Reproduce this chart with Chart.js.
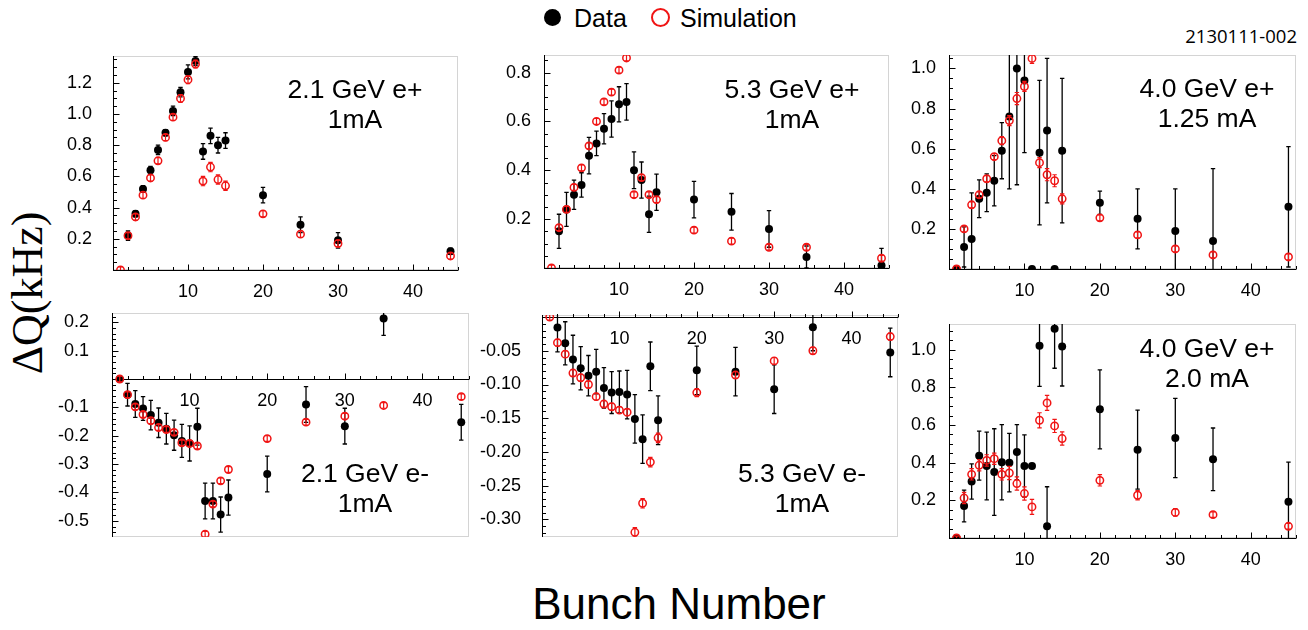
<!DOCTYPE html>
<html lang="en">
<head>
<meta charset="UTF-8">
<title>Tune shift vs bunch number</title>
<script src="https://cdn.jsdelivr.net/npm/chart.js@4.4.0/dist/chart.umd.min.js"></script>
<style>
  body { margin: 0; background: #fff; font-family: 'Liberation Sans', Arial, sans-serif; }
  #page { position: relative; width: 1308px; height: 630px; overflow: hidden; background: #fff; }
  canvas { position: absolute; }
  .txt { position: absolute; color: #000; white-space: nowrap; }
  .note { font-size: 26.5px; line-height: 30px; text-align: center; transform: translateX(-50%); }
</style>
</head>
<body>
<div id="page">
  <div class="txt" style="left:544px;top:9px;width:17px;height:17px;border-radius:50%;background:#000"></div>
  <div class="txt" style="left:574px;top:3px;font-size:25px;line-height:30px">Data</div>
  <div class="txt" style="left:651px;top:8px;width:15px;height:15px;border-radius:50%;border:2.5px solid #f01414"></div>
  <div class="txt" style="left:680px;top:3px;font-size:25px;line-height:30px">Simulation</div>
  <div class="txt" style="right:11px;top:23px;font-family:'Open Sans',sans-serif;font-size:18.5px;line-height:26px">2130111-002</div>
  <div class="txt" style="left:28px;top:293px;font-family:'Liberation Serif',serif;font-size:44px;line-height:50px;transform:translate(-50%,-50%) rotate(-90deg)">ΔQ(kHz)</div>
  <div class="txt" style="left:679px;top:604px;font-size:44px;line-height:50px;transform:translate(-50%,-50%)">Bunch Number</div>
</div>
<script>
// bunch numbers (x values)
const bunch = [1, 2, 3, 4, 5, 6, 7, 8, 9, 10, 11, 12, 13, 14, 15, 20, 25, 30, 35, 45];
const xTicks = [10, 20, 30, 40];

// 2.1 GeV e+ 1mA
const tlData    = [null, 0.22, 0.36, 0.52, 0.64, 0.77, 0.88, 1.02, 1.14, 1.27, 1.34, 0.76, 0.86, 0.80, 0.83, 0.48, 0.29, 0.19, null, 0.12];
const tlDataErr = [0, 0.03, 0.02, 0.02, 0.025, 0.03, 0.02, 0.03, 0.03, 0.045, 0.03, 0.05, 0.05, 0.05, 0.05, 0.05, 0.05, 0.05, 0, 0.02];
const tlSim     = [0.0, 0.22, 0.34, 0.48, 0.59, 0.70, 0.85, 0.98, 1.10, 1.22, 1.32, 0.57, 0.66, 0.58, 0.54, 0.36, 0.23, 0.17, null, 0.09];
const tlSimErr  = [0.02, 0.02, 0.02, 0.02, 0.02, 0.02, 0.02, 0.02, 0.025, 0.025, 0.025, 0.03, 0.03, 0.03, 0.03, 0.02, 0.02, 0.02, 0, 0.02];

// 5.3 GeV e+ 1mA
const tmData    = [null, 0.15, 0.24, 0.30, 0.34, 0.46, 0.51, 0.57, 0.61, 0.67, 0.68, 0.40, 0.36, 0.22, 0.31, 0.28, 0.23, 0.16, 0.045, 0.01];
const tmDataErr = [0, 0.07, 0.07, 0.06, 0.05, 0.075, 0.05, 0.062, 0.074, 0.072, 0.075, 0.075, 0.074, 0.074, 0.074, 0.075, 0.075, 0.075, 0.045, 0.07];
const tmSim     = [0.0, 0.165, 0.24, 0.33, 0.41, 0.50, 0.60, 0.68, 0.72, 0.81, 0.86, 0.30, 0.37, 0.30, 0.28, 0.155, 0.11, 0.085, 0.085, 0.04];
const tmSimErr  = [0.012, 0.012, 0.012, 0.012, 0.012, 0.012, 0.012, 0.012, 0.012, 0.012, 0.012, 0.012, 0.012, 0.012, 0.012, 0.012, 0.012, 0.012, 0.012, 0.012];

// 4.0 GeV e+ 1.25 mA
const trData    = [0.0, 0.11, 0.15, 0.35, 0.38, 0.44, 0.59, 0.76, 1.00, 0.94, 0.0, 0.58, 0.69, 0.0, 0.59, 0.33, 0.25, 0.19, 0.14, 0.31];
const trDataErr = [0, 0.10, 0.23, 0.094, 0.094, 0.125, 0.14, 0.36, 0.58, 0.36, 0, 0.36, 0.36, 0, 0.36, 0.058, 0.15, 0.21, 0.36, 0.30];
const trSim     = [0.0, 0.20, 0.32, 0.37, 0.45, 0.56, 0.64, 0.74, 0.85, 0.91, 1.05, 0.53, 0.47, 0.44, 0.35, 0.255, 0.17, 0.10, 0.07, 0.06];
const trSimErr  = [0.015, 0.015, 0.015, 0.015, 0.015, 0.015, 0.02, 0.025, 0.03, 0.025, 0.025, 0.025, 0.03, 0.03, 0.025, 0.015, 0.015, 0.015, 0.015, 0.015];

// 2.1 GeV e- 1mA
const blData    = [0.0, -0.055, -0.088, -0.104, -0.127, -0.154, -0.175, -0.198, -0.218, -0.227, -0.168, -0.43, -0.43, -0.478, -0.418, -0.335, -0.09, -0.166, 0.214, -0.152];
const blDataErr = [0, 0.04, 0.047, 0.042, 0.052, 0.052, 0.054, 0.053, 0.058, 0.062, 0.065, 0.063, 0.063, 0.062, 0.062, 0.063, 0.063, 0.063, 0.06, 0.063];
const blSim     = [0.0, -0.055, -0.098, -0.125, -0.147, -0.171, -0.178, -0.188, -0.225, -0.227, -0.236, -0.547, -0.441, -0.359, -0.319, -0.21, -0.152, -0.131, -0.093, -0.062];
const blSimErr  = [0.01, 0.01, 0.01, 0.01, 0.01, 0.01, 0.01, 0.01, 0.01, 0.01, 0.01, 0.01, 0.01, 0.01, 0.01, 0.01, 0.01, 0.01, 0.01, 0.01];

// 5.3 GeV e- 1mA
const bmData    = [null, -0.0155, -0.039, -0.063, -0.076, -0.087, -0.081, -0.105, -0.112, -0.111, -0.115, -0.151, -0.181, -0.073, -0.153, -0.079, -0.081, -0.107, -0.015, -0.0525];
const bmDataErr = [0, 0.036, 0.032, 0.036, 0.032, 0.03, 0.033, 0.03, 0.031, 0.031, 0.036, 0.036, 0.036, 0.036, 0.036, 0.036, 0.036, 0.036, 0.035, 0.036];
const bmSim     = [0.0, -0.038, -0.055, -0.083, -0.09, -0.10, -0.118, -0.129, -0.133, -0.138, -0.141, -0.319, -0.276, -0.215, -0.179, -0.112, -0.086, -0.065, -0.05, -0.029];
const bmSimErr  = [0.005, 0.005, 0.005, 0.005, 0.005, 0.005, 0.005, 0.005, 0.005, 0.005, 0.005, 0.007, 0.007, 0.007, 0.007, 0.006, 0.005, 0.005, 0.005, 0.005];

// 4.0 GeV e+ 2.0 mA
const brData    = [0.0, 0.17, 0.30, 0.437, 0.382, 0.35, 0.402, 0.40, 0.456, 0.382, 0.382, 1.021, 0.062, 1.111, 1.017, 0.683, 0.469, 0.531, 0.418, 0.193];
const brDataErr = [0, 0.084, 0.094, 0.13, 0.18, 0.23, 0.2, 0.155, 0.146, 0.165, 0, 0.216, 0.21, 0.21, 0.21, 0.21, 0.21, 0.21, 0.166, 0.21];
const brSim     = [0.0, 0.212, 0.338, 0.386, 0.412, 0.421, 0.338, 0.345, 0.289, 0.236, 0.165, 0.625, 0.717, 0.595, 0.528, 0.306, 0.227, 0.136, 0.124, 0.062];
const brSimErr  = [0.01, 0.03, 0.03, 0.03, 0.03, 0.03, 0.03, 0.035, 0.035, 0.035, 0.04, 0.04, 0.04, 0.035, 0.035, 0.03, 0.025, 0.02, 0.015, 0.015];

// y tick labels
const tlTicks = [0.2, 0.4, 0.6, 0.8, 1.0, 1.2];
const tmTicks = [0.2, 0.4, 0.6, 0.8];
const trTicks = [0.2, 0.4, 0.6, 0.8, 1.0];
const blTicks = [-0.5, -0.4, -0.3, -0.2, -0.1, 0.1, 0.2];
const bmTicks = [-0.30, -0.25, -0.20, -0.15, -0.10, -0.05];
const brTicks = [0.2, 0.4, 0.6, 0.8, 1.0];

const RED = '#f01414';
const L = 70, T = 30, R = 14, B = 32;

const panels = [
  { area: {left: 113, right: 458, top: 56, bottom: 270}, yMin: 0, yMax: 1.372, yTicks: tlTicks, dec: 1, minor: 0.05, pad: 13,
    data: tlData, dataErr: tlDataErr, sim: tlSim, simErr: tlSimErr, note: ['2.1 GeV e+', '1mA'], noteAt: [355, 74] },
  { area: {left: 544, right: 889, top: 55, bottom: 268}, yMin: 0, yMax: 0.872, yTicks: tmTicks, dec: 1, minor: 0.05, pad: 5,
    data: tmData, dataErr: tmDataErr, sim: tmSim, simErr: tmSimErr, note: ['5.3 GeV e+', '1mA'], noteAt: [792, 74] },
  { area: {left: 949, right: 1296, top: 55, bottom: 269}, yMin: 0, yMax: 1.067, yTicks: trTicks, dec: 1, minor: 0.05, pad: 5,
    data: trData, dataErr: trDataErr, sim: trSim, simErr: trSimErr, note: ['4.0 GeV e+', '1.25 mA'], noteAt: [1207, 73] },
  { area: {left: 112, right: 469, top: 313, bottom: 537}, yMin: -0.557, yMax: 0.233, yTicks: blTicks, dec: 1, minor: 0.02, pad: 15,
    data: blData, dataErr: blDataErr, sim: blSim, simErr: blSimErr, note: ['2.1 GeV e-', '1mA'], noteAt: [365, 458] },
  { area: {left: 542, right: 898, top: 315, bottom: 537}, yMin: -0.326, yMax: 0.003, yTicks: bmTicks, dec: 2, minor: 0.01, pad: 13,
    data: bmData, dataErr: bmDataErr, sim: bmSim, simErr: bmSimErr, note: ['5.3 GeV e-', '1mA'], noteAt: [802, 458] },
  { area: {left: 949, right: 1296, top: 324, bottom: 538}, yMin: 0, yMax: 1.136, yTicks: brTicks, dec: 1, minor: 0.05, pad: 5,
    data: brData, dataErr: brDataErr, sim: brSim, simErr: brSimErr, note: ['4.0 GeV e+', '2.0 mA'], noteAt: [1207, 333] }
];

Chart.defaults.font.family = "'Liberation Sans', Arial, sans-serif";

function toPoints(ys, errs) {
  const out = [];
  bunch.forEach((b, i) => {
    if (ys[i] !== null) out.push({x: b, y: ys[i], e: errs[i]});
  });
  return out;
}

// error bars drawn under each dataset's markers
const errorBars = {
  id: 'errorBars',
  beforeDatasetDraw(chart, args) {
    const ds = chart.data.datasets[args.index];
    const {ctx, chartArea: a} = chart;
    const xs = chart.scales.x, ys = chart.scales.y;
    ctx.save();
    ctx.beginPath();
    ctx.rect(a.left, a.top, a.right - a.left, a.bottom - a.top);
    ctx.clip();
    ctx.strokeStyle = ds.barColor;
    ctx.lineWidth = ds.barWidth;
    const cap = 2.2;
    ds.data.forEach(p => {
      if (!p.e) return;
      const px = xs.getPixelForValue(p.x);
      const y1 = ys.getPixelForValue(p.y - p.e);
      const y2 = ys.getPixelForValue(p.y + p.e);
      ctx.beginPath();
      ctx.moveTo(px, y1); ctx.lineTo(px, y2);
      ctx.moveTo(px - cap, y1); ctx.lineTo(px + cap, y1);
      ctx.moveTo(px - cap, y2); ctx.lineTo(px + cap, y2);
      ctx.stroke();
    });
    ctx.restore();
  }
};

function makePanel(p) {
  const page = document.getElementById('page');
  const w = p.area.right - p.area.left, h = p.area.bottom - p.area.top;
  const cv = document.createElement('canvas');
  cv.width = w + L + R;
  cv.height = h + T + B;
  cv.style.left = (p.area.left - L) + 'px';
  cv.style.top = (p.area.top - T) + 'px';
  cv.style.width = cv.width + 'px';
  cv.style.height = cv.height + 'px';
  page.appendChild(cv);

  const note = document.createElement('div');
  note.className = 'txt note';
  note.style.left = p.noteAt[0] + 'px';
  note.style.top = p.noteAt[1] + 'px';
  note.innerHTML = p.note.join('<br>');
  page.appendChild(note);

  // frame, axis lines and inward ticks
  const axes = {
    id: 'axes',
    beforeDatasetsDraw(chart) {
      const {ctx, chartArea: a} = chart;
      const xs = chart.scales.x, ys = chart.scales.y;
      ctx.save();
      ctx.strokeStyle = '#d4d4d4';
      ctx.lineWidth = 1;
      ctx.strokeRect(a.left + 0.5, a.top + 0.5, a.right - a.left - 1, a.bottom - a.top - 1);
      const y0 = Math.round(ys.getPixelForValue(0)) + 0.5;
      const x0 = Math.round(a.left) + 0.5;
      ctx.strokeStyle = '#000';
      ctx.beginPath();
      ctx.moveTo(x0, a.top); ctx.lineTo(x0, a.bottom);
      ctx.moveTo(a.left, y0); ctx.lineTo(a.right, y0);
      for (let k = 1; k <= 23; k++) {
        const v = k * 2;
        const px = Math.round(xs.getPixelForValue(v)) + 0.5;
        const len = v % 10 === 0 ? 6 : 3.5;
        ctx.moveTo(px, y0); ctx.lineTo(px, y0 - len);
      }
      const n0 = Math.ceil(p.yMin / p.minor - 1e-6), n1 = Math.floor(p.yMax / p.minor + 1e-6);
      for (let k = n0; k <= n1; k++) {
        const v = k * p.minor;
        if (Math.abs(v) < 1e-9) continue;
        const major = p.yTicks.some(t => Math.abs(t - v) < 1e-9);
        const py = Math.round(ys.getPixelForValue(v)) + 0.5;
        ctx.moveTo(x0, py); ctx.lineTo(x0 + (major ? 6 : 3.5), py);
      }
      ctx.stroke();
      ctx.restore();
    }
  };

  new Chart(cv, {
    type: 'scatter',
    data: {
      datasets: [
        { label: 'Data', data: toPoints(p.data, p.dataErr), order: 2, clip: 0,
          pointRadius: 4, pointHoverRadius: 4, backgroundColor: '#000', borderWidth: 0,
          barColor: '#000', barWidth: 1.3 },
        { label: 'Simulation', data: toPoints(p.sim, p.simErr), order: 1, clip: 0,
          pointRadius: 3.7, pointHoverRadius: 3.7, backgroundColor: 'rgba(0,0,0,0)', borderColor: RED, borderWidth: 1.5,
          barColor: RED, barWidth: 1.2 }
      ]
    },
    options: {
      responsive: false,
      animation: false,
      devicePixelRatio: 1,
      events: [],
      layout: { padding: { left: 0, top: T, right: R, bottom: B } },
      plugins: { legend: { display: false }, tooltip: { enabled: false } },
      scales: {
        x: {
          type: 'linear', min: 0, max: 46,
          position: { y: 0 },
          grid: { display: false }, border: { display: false },
          afterBuildTicks: s => { s.ticks = xTicks.map(v => ({ value: v })); },
          afterFit: s => { s.height = 0; },
          ticks: { color: '#000', font: { size: 18 }, padding: 3, maxRotation: 0, autoSkip: false, callback: v => String(v) }
        },
        y: {
          type: 'linear', min: p.yMin, max: p.yMax,
          grid: { display: false }, border: { display: false },
          afterBuildTicks: s => { s.ticks = p.yTicks.map(v => ({ value: v })); },
          afterFit: s => { s.width = L; },
          ticks: { color: '#000', font: { size: 18 }, padding: p.pad, autoSkip: false, callback: v => v.toFixed(p.dec) }
        }
      }
    },
    plugins: [axes, errorBars]
  });
}

panels.forEach(makePanel);
</script>
</body>
</html>
